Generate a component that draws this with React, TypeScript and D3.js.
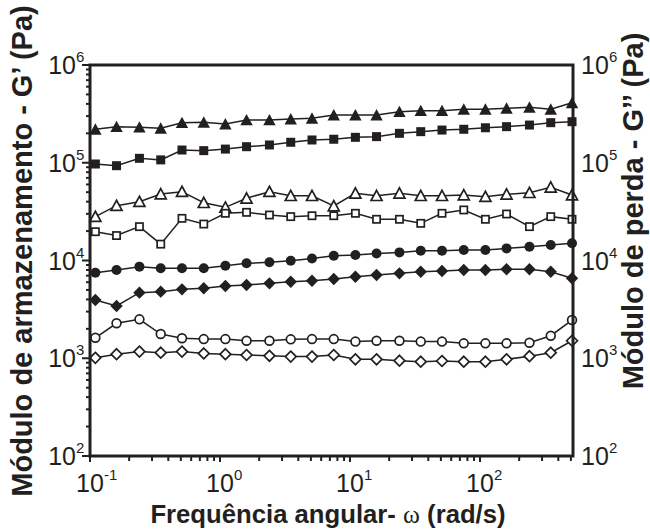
import React from 'react';
import * as d3 from 'd3';

// frequencies (rad/s), 6 points per decade
const freq = [0.11, 0.16, 0.24, 0.35, 0.51, 0.75, 1.1, 1.6, 2.4, 3.5, 5.1, 7.5, 11, 16, 24, 35, 51, 75, 110, 160, 240, 350, 510];

const triFilled = [2.2e5, 2.34e5, 2.31e5, 2.25e5, 2.57e5, 2.59e5, 2.49e5, 2.74e5, 2.74e5, 2.8e5, 2.85e5, 3.08e5, 3.08e5, 3.08e5, 3.33e5, 3.41e5, 3.41e5, 3.52e5, 3.52e5, 3.61e5, 3.69e5, 3.52e5, 4.11e5];
const sqFilled = [9.71e4, 9.33e4, 1.11e5, 1.07e5, 1.35e5, 1.33e5, 1.38e5, 1.46e5, 1.52e5, 1.62e5, 1.71e5, 1.74e5, 1.82e5, 1.85e5, 2.0e5, 2.08e5, 2.16e5, 2.2e5, 2.28e5, 2.34e5, 2.43e5, 2.57e5, 2.63e5];
const triOpen = [2.81e4, 3.64e4, 4.0e4, 4.79e4, 5.06e4, 3.9e4, 3.5e4, 4.33e4, 5.06e4, 4.6e4, 4.6e4, 3.61e4, 4.87e4, 4.6e4, 4.87e4, 4.6e4, 4.6e4, 4.68e4, 4.5e4, 4.76e4, 4.94e4, 5.61e4, 4.68e4];
const sqOpen = [1.97e4, 1.8e4, 2.22e4, 1.47e4, 2.7e4, 2.36e4, 3.04e4, 3.11e4, 2.92e4, 2.81e4, 2.87e4, 2.87e4, 3.04e4, 2.64e4, 2.64e4, 2.4e4, 3.04e4, 3.29e4, 2.64e4, 2.99e4, 2.22e4, 2.81e4, 2.64e4];
const circFilled = [7.5e3, 8.0e3, 8.65e3, 8.32e3, 8.32e3, 8.32e3, 8.85e3, 9.36e3, 9.59e3, 9.95e3, 1.05e4, 1.12e4, 1.14e4, 1.18e4, 1.21e4, 1.26e4, 1.26e4, 1.28e4, 1.28e4, 1.33e4, 1.38e4, 1.44e4, 1.5e4];
const diaFilled = [3.94e3, 3.43e3, 4.69e3, 4.8e3, 5.07e3, 5.2e3, 5.48e3, 5.61e3, 5.84e3, 6.07e3, 6.21e3, 6.47e3, 6.83e3, 7.11e3, 7.39e3, 7.68e3, 7.81e3, 8.0e3, 8.0e3, 8.13e3, 8.13e3, 7.68e3, 6.58e3];
const circOpen = [1.62e3, 2.28e3, 2.5e3, 1.77e3, 1.6e3, 1.57e3, 1.57e3, 1.51e3, 1.51e3, 1.56e3, 1.57e3, 1.57e3, 1.48e3, 1.51e3, 1.51e3, 1.48e3, 1.48e3, 1.42e3, 1.42e3, 1.42e3, 1.44e3, 1.7e3, 2.46e3];
const diaOpen = [1.01e3, 1.1e3, 1.17e3, 1.14e3, 1.17e3, 1.12e3, 1.1e3, 1.08e3, 1.06e3, 1.04e3, 1.04e3, 1.08e3, 975, 975, 944, 922, 937, 922, 922, 975, 1.05e3, 1.14e3, 1.51e3];

const xTicks = [0.1, 1, 10, 100];
const xExp = ['-1', '0', '1', '2'];
const yTicks = [1e2, 1e3, 1e4, 1e5, 1e6];
const yExp = ['2', '3', '4', '5', '6'];

const series = [
  { values: triFilled, shape: 'triangle', filled: true },
  { values: sqFilled, shape: 'square', filled: true },
  { values: triOpen, shape: 'triangle', filled: false },
  { values: sqOpen, shape: 'square', filled: false },
  { values: circFilled, shape: 'circle', filled: true },
  { values: diaFilled, shape: 'diamond', filled: true },
  { values: circOpen, shape: 'circle', filled: false },
  { values: diaOpen, shape: 'diamond', filled: false },
];

const W = 650, H = 532;
const left = 90, right = 573, top = 65, bottom = 456;
const ink = '#231f20';
const font = 'Liberation Sans, Arial, sans-serif';

function Marker({ shape, filled, cx, cy }) {
  const fill = filled ? ink : 'white';
  const sw = filled ? 0 : 1.7;
  if (shape === 'circle') {
    return <circle cx={cx} cy={cy} r={filled ? 5 : 4.4} fill={fill} stroke={ink} strokeWidth={sw} />;
  }
  if (shape === 'square') {
    const s = filled ? 9 : 7.2;
    return <rect x={cx - s / 2} y={cy - s / 2} width={s} height={s} fill={fill} stroke={ink} strokeWidth={sw} />;
  }
  if (shape === 'diamond') {
    const r = filled ? 6.2 : 5.4;
    return <path d={`M${cx},${cy - r}L${cx + r},${cy}L${cx},${cy + r}L${cx - r},${cy}Z`} fill={fill} stroke={ink} strokeWidth={sw} />;
  }
  const hw = filled ? 6.2 : 5.5, hh = filled ? 5.4 : 4.8;
  return <path d={`M${cx},${cy - hh - 0.6}L${cx + hw},${cy + hh}L${cx - hw},${cy + hh}Z`} fill={fill} stroke={ink} strokeWidth={sw} strokeLinejoin="miter" />;
}

export default function App() {
  const x = d3.scaleLog().domain([0.1, 519]).range([left, right]);
  const y = d3.scaleLog().domain([100, 1e6]).range([bottom, top]);
  const line = d3.line<number>().x((_, i) => x(freq[i])).y(d => y(d));

  const xMinor = x.ticks().filter(t => !xTicks.includes(t) && t <= 519);
  const yMinor = y.ticks().filter(t => !yTicks.includes(t));

  return (
    <svg width={W} height={H} style={{ position: 'absolute', left: 0, top: 0, background: 'white' }} fontFamily={font}>
      {/* data */}
      {series.map((s, si) => (
        <g key={si}>
          <path d={line(s.values) || ''} fill="none" stroke={ink} strokeWidth={1.5} />
          {s.values.map((v, i) => (
            <Marker key={i} shape={s.shape} filled={s.filled} cx={x(freq[i])} cy={y(v)} />
          ))}
        </g>
      ))}

      {/* frame */}
      <rect x={left} y={top} width={right - left} height={bottom - top} fill="none" stroke={ink} strokeWidth={3} />

      {/* x ticks */}
      {xMinor.map((t, i) => (
        <line key={i} x1={x(t)} x2={x(t)} y1={bottom} y2={bottom + 5} stroke={ink} strokeWidth={2} />
      ))}
      {xTicks.map((t, i) => (
        <g key={i}>
          <line x1={x(t)} x2={x(t)} y1={bottom} y2={bottom + 6} stroke={ink} strokeWidth={2} />
          <text x={x(t)} y={492} fontSize={25} fill={ink} textAnchor="middle">10</text>
          <text x={x(t) + 14} y={480} fontSize={15} fill={ink}>{xExp[i]}</text>
        </g>
      ))}

      {/* y ticks left */}
      {yMinor.map((t, i) => (
        <line key={i} x1={left - 4} x2={left} y1={y(t)} y2={y(t)} stroke={ink} strokeWidth={2} />
      ))}
      {yTicks.map((t, i) => (
        <g key={i}>
          <line x1={left - 8} x2={left} y1={y(t)} y2={y(t)} stroke={ink} strokeWidth={2} />
          <text x={76} y={y(t) + 9} fontSize={25} fill={ink} textAnchor="end">10</text>
          <text x={76} y={y(t) - 3} fontSize={15} fill={ink}>{yExp[i]}</text>
          <text x={581} y={y(t) + 9} fontSize={25} fill={ink}>10</text>
          <text x={609} y={y(t) - 3} fontSize={15} fill={ink}>{yExp[i]}</text>
        </g>
      ))}

      {/* axis titles */}
      <text x={328} y={523} fontSize={25.7} fontWeight="bold" fill={ink} textAnchor="middle">
        Frequência angular- <tspan fontFamily="Liberation Serif, Times New Roman, serif" fontWeight="normal">ω</tspan> (rad/s)
      </text>
      <text transform="translate(32,251) rotate(-90)" fontSize={29} fontWeight="bold" fill={ink} textAnchor="middle">
        Módulo de armazenamento - G’ (Pa)
      </text>
      <text transform="translate(643,211) rotate(-90)" fontSize={29} fontWeight="bold" fill={ink} textAnchor="middle">
        Módulo de perda - G’’ (Pa)
      </text>
    </svg>
  );
}
